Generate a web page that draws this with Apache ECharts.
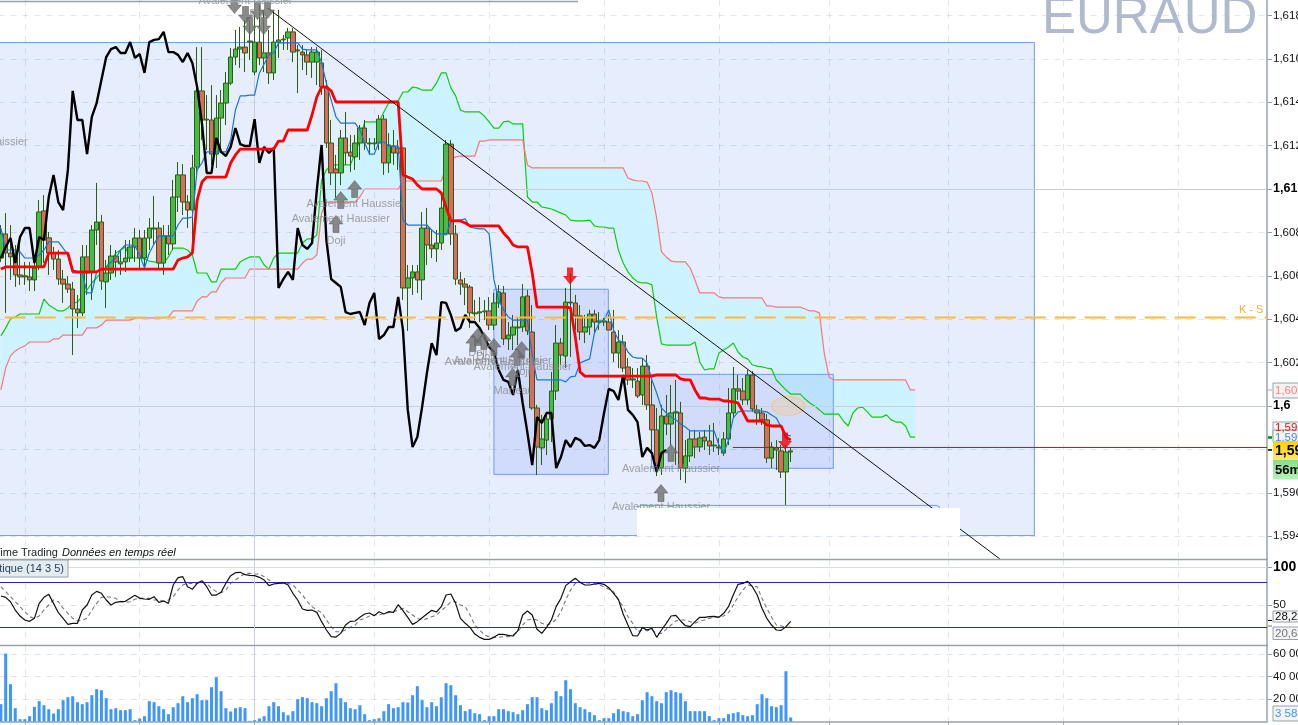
<!DOCTYPE html>
<html><head><meta charset="utf-8">
<style>html,body{margin:0;padding:0;background:#fff;overflow:hidden}#c{width:1298px;height:725px}</style>
<script src="https://cdn.jsdelivr.net/npm/echarts@6/dist/echarts.min.js"></script>
</head><body><div id="c"></div>
<script>
// All prices are in points (1e-5)
const opens=[160682,160793,160705,160687,160604,160600,160595,160581,160641,160899,
160775,160705,160677,160585,160562,160539,160447,160429,160687,160618,
160811,160848,160572,160613,160691,160655,160664,160682,160733,160774,
160682,160774,160816,160820,160659,160784,160747,160963,161065,160940,
160903,161101,161452,161318,161318,161161,161327,161396,161488,161608,
161645,161654,161677,161539,161677,161604,161627,161535,161677,161687,
161696,161724,161641,161631,161618,161585,161585,161581,161470,161212,
161092,161074,161235,161170,161148,161212,161281,161212,161208,161212,
161322,161120,161198,161189,161189,160544,160590,160618,160581,160820,
160742,160724,160751,160793,161207,160793,160581,160562,160548,160429,
160429,160434,160438,160373,160475,160521,160309,160327,160364,160364,
160507,160341,159991,159807,159843,159940,160069,160290,160230,160479,
160475,160415,160341,160364,160424,160387,160387,160387,160341,160244,
160295,160180,160120,160115,160051,160184,160005,159890,159714,159954,
159917,159968,159968,159714,159770,159848,159811,159857,159839,159816,
159811,159783,159848,159968,160079,160069,160028,160143,159982,159968,
159936,159760,159807,159793,159696,159788];
const closes=[160793,160705,160687,160604,160595,160595,160581,160636,160894,160765,
160705,160677,160585,160562,160539,160447,160429,160687,160613,160811,
160848,160576,160613,160691,160664,160664,160682,160733,160774,160682,
160774,160820,160820,160659,160784,160747,160963,161065,160940,160903,
161097,161452,161318,161322,161161,161327,161396,161488,161608,161645,
161654,161627,161682,161677,161604,161627,161535,161677,161687,161691,
161724,161631,161636,161618,161585,161631,161631,161470,161212,161074,
161074,161235,161166,161152,161212,161281,161212,161208,161212,161322,
161120,161203,161166,161166,160544,160590,160618,160581,160820,160742,
160724,160751,160912,161207,160793,160585,160562,160548,160429,160425,
160434,160438,160373,160475,160526,160309,160327,160364,160360,160503,
160346,159991,159811,159848,159940,160069,160290,160235,160479,160475,
160415,160341,160364,160424,160387,160392,160392,160350,160244,160295,
160175,160120,160125,160046,160184,160005,159890,159714,159954,159917,
159968,159973,159714,159770,159848,159811,159853,159839,159816,159820,
159807,159848,159968,160079,160069,160028,160143,159986,159968,159936,
159760,159811,159797,159696,159788,159793];
const lows=[160664,160429,160581,160549,160558,160558,160530,160530,160627,160659,
160604,160627,160558,160475,160521,160235,160360,160415,160512,160489,
160742,160535,160452,160581,160595,160604,160618,160664,160664,160627,
160627,160719,160742,160627,160604,160696,160719,160894,160880,160820,
160765,161051,161226,161180,161111,161097,161180,161295,161479,161571,
161558,161539,161595,161525,161571,161539,161484,161502,161604,161641,
161641,161585,161442,161548,161525,161512,161479,161433,161189,161018,
160959,161018,161111,161078,161088,161134,161180,161157,161180,161180,
161065,161074,161111,161088,160489,160346,160512,160521,160489,160650,
160682,160664,160719,160793,160742,160558,160512,160465,160360,160396,
160387,160396,160350,160350,160452,160281,160258,160258,160281,160341,
160327,159982,159682,159728,159774,159834,160028,160189,160175,160226,
160350,160304,160290,160327,160341,160350,160369,160350,160203,160175,
160157,160097,160083,160037,160005,159982,159774,159677,159682,159866,
159820,159728,159659,159645,159742,159760,159788,159797,159774,159788,
159774,159770,159820,159945,160028,160005,160005,159973,159913,159913,
159737,159714,159705,159668,159544,159742];
const highs=[160834,160889,160834,160742,160765,160664,160664,160696,160949,160972,
160802,160733,160719,160627,160599,160572,160512,160742,160742,160834,
161028,160880,160673,160742,160719,160719,160765,160765,160820,160811,
160811,160866,160968,160848,160834,160834,161042,161124,161115,160972,
161157,161654,161654,161433,161479,161433,161456,161539,161650,161733,
161747,161779,161779,161802,161848,161825,161733,161825,161825,161710,
161742,161742,161664,161664,161641,161654,161654,161641,161502,161318,
161157,161272,161355,161249,161249,161295,161318,161235,161235,161341,
161341,161258,161272,161226,161189,160650,160650,160650,160894,160913,
160811,160811,160986,161226,161226,160834,160618,160590,160558,160489,
160502,160489,160502,160521,160558,160553,160387,160420,160406,160562,
160535,160465,160005,159959,159973,160157,160373,160313,160544,160613,
160512,160465,160420,160443,160443,160433,160406,160420,160443,160350,
160327,160221,160175,160175,160221,160235,160120,159991,160005,160051,
160097,160120,160019,159843,159890,159890,159880,159890,159913,159922,
159853,159880,160083,160180,160143,160129,160166,160161,160005,159991,
159963,159834,159843,159820,159820,159807];
const kijun=[160631,160641,160641,160641,160641,160641,160641,160641,160641,160641,
160705,160705,160705,160705,160705,160622,160618,160618,160618,160618,
160618,160631,160631,160631,160631,160631,160631,160631,160631,160631,
160631,160631,160631,160631,160631,160631,160631,160673,160682,160687,
160705,160949,161032,161055,161055,161055,161055,161055,161120,161157,
161184,161184,161184,161184,161184,161184,161184,161184,161221,161221,
161272,161272,161272,161272,161272,161341,161424,161470,161470,161452,
161401,161401,161401,161401,161401,161401,161401,161401,161401,161401,
161401,161401,161401,161401,161065,161055,161046,161019,161000,161000,
161000,161000,160982,160917,160853,160853,160853,160843,160830,160830,
160830,160830,160830,160830,160830,160797,160774,160742,160733,160733,
160733,160613,160456,160456,160456,160456,160456,160456,160456,160452,
160318,160157,160138,160138,160138,160138,160138,160138,160138,160138,
160138,160138,160138,160138,160138,160138,160138,160143,160143,160143,
160143,160143,160125,160120,160120,160074,160037,160037,160032,160032,
160032,160023,160023,160019,160014,159973,159931,159931,159931,159931,
159913,159908,159908,159908,159857,159843];
const tenkan=[160820,160719,160719,160719,160710,160682,160682,160682,160696,160719,
160756,160756,160756,160728,160696,160613,160613,160613,160521,160521,
160618,160627,160636,160664,160682,160719,160742,160742,160737,160696,
160636,160705,160747,160784,160784,160784,160784,160834,160866,160866,
160871,161088,161120,161171,161171,161171,161171,161171,161226,161364,
161429,161429,161433,161433,161535,161576,161618,161627,161673,161673,
161673,161673,161673,161645,161641,161641,161641,161581,161488,161410,
161332,161304,161304,161304,161304,161272,161212,161161,161161,161217,
161217,161198,161198,161198,160857,160834,160834,160834,160834,160834,
160811,160793,160793,160788,160848,160857,160857,160862,160825,160820,
160816,160816,160793,160581,160489,160443,160410,160396,160396,160396,
160396,160235,160120,160120,160120,160120,160120,160120,160111,160134,
160138,160198,160208,160217,160337,160383,160396,160443,160350,160304,
160290,160249,160226,160221,160221,160198,160120,160060,159991,159968,
159949,159936,159917,159903,159885,159885,159885,159885,159885,159885,
159820,159783,159843,159945,159973,159977,159977,159977,159977,159977,
159973,159959,159945,159903,159867,159862];
const chikou=[160682,160733,160774,160659,160779,160820,160820,160659,160779,160765,
160963,161065,160940,160903,161088,161452,161318,161318,161161,161332,
161396,161502,161608,161645,161654,161627,161627,161677,161604,161622,
161535,161677,161687,161691,161724,161631,161631,161618,161585,161627,
161581,161470,161304,161074,161074,161235,161171,161152,161194,161281,
161207,161198,161198,161322,161120,161194,161166,161189,
160544,160585,160618,160581,160820,160742,160724,160751,160995,161203,
160765,160585,160567,160549,160433,160424,160429,160433,160373,160475,
160521,160309,160327,160364,160364,160503,160350,159982,159811,159857,
159996,160152,160290,160235,160479,160475,160420,160346,160360,160420,160387,160387,
160360,160318,160272,160249,160166,160120,160111,160051,160166,160014,
159876,159728,159949,159922,159968,159968,159714,159765,159843,159811,
159853,159843,159816,159820,159807,159843,159968,160079,160069,160028,
160143,159982,159959,159926,159765,159807,159783,159696,159783,159797];
const senkouA=[160323,160360,160401,160410,160424,160424,160424,160424,160424,160493,
160466,160452,160438,160438,160452,160475,160479,160507,160535,160567,
160590,160618,160641,160673,160705,160719,160733,160682,160682,160682,
160677,160668,160664,160659,160659,160687,160728,160728,160728,160719,
160696,160613,160613,160613,160572,160572,160631,160631,160631,160631,
160664,160677,160687,160687,160687,160650,160631,160682,160705,160705,
160705,160705,160705,160751,160770,160770,160788,161042,161088,161111,
161111,161111,161111,161111,161166,161226,161309,161309,161309,161309,
161355,161396,161401,161406,161447,161447,161470,161466,161456,161456,
161456,161489,161535,161535,161466,161429,161364,161355,161355,161355,
161355,161336,161309,161281,161281,161309,161313,161300,161300,161300,
160963,160940,160940,160917,160913,160908,160899,160889,160880,160857,
160853,160853,160853,160857,160830,160825,160825,160820,160820,160719,
160659,160618,160590,160572,160567,160567,160558,160410,160286,160281,
160281,160281,160281,160281,160281,160295,160203,160166,160171,160171,
160244,160258,160272,160290,160249,160226,160217,160189,160184,160180,
160175,160171,160120,160097,160074,160055,160055,160055,160032,160014,
160000,159982,159963,159963,159963,159963,159931,159908,159968,159991,
159995,159973,159949,159949,159949,159959,159936,159926,159926,159908,
159857,159857];
const senkouB=[160074,160175,160231,160254,160267,160277,160295,160295,160295,160295,
160295,160309,160309,160327,160327,160327,160327,160327,160360,160360,
160360,160373,160396,160396,160396,160396,160396,160396,160406,160406,
160406,160406,160406,160406,160406,160410,160438,160438,160438,160438,
160438,160484,160503,160503,160526,160526,160567,160590,160590,160590,
160590,160590,160631,160631,160631,160631,160631,160631,160631,160631,
160631,160631,160631,160659,160677,160677,160696,160889,160940,160940,
160940,160940,160940,160940,160940,160963,161000,161000,161000,161000,
161000,161000,161000,161000,161037,161037,161037,161037,161037,161037,
161037,161037,161037,161097,161134,161148,161152,161152,161152,161152,
161221,161221,161226,161226,161226,161226,161226,161226,161226,161226,
161111,161097,161097,161097,161097,161097,161097,161097,161097,161097,
161097,161097,161097,161097,161097,161097,161097,161097,161097,161097,
161097,161051,161042,161037,161037,161032,160982,160866,160710,160687,
160668,160664,160664,160664,160636,160581,160521,160521,160521,160521,
160503,160498,160498,160498,160498,160498,160498,160498,160498,160498,
160461,160461,160456,160456,160456,160456,160456,160456,160447,160438,
160438,160429,160244,160134,160120,160120,160120,160120,160120,160120,
160120,160120,160120,160120,160120,160120,160120,160120,160120,160120,
160074,160074];
const stochK=[62,60.2,54.4,43.3,35.3,30,28.2,32.2,52.2,60.2,
64.2,52.2,39.8,32.2,24.2,25.6,25.6,43.3,50,63.3,
68.2,65.6,56.7,50,53.6,54.4,54.9,58.9,62.9,58.9,
58,57.6,61.1,53.6,55.3,52.2,76.7,86.4,87.8,74.4,
70.9,78.9,82.4,74.4,63.3,63.3,66.9,78.9,89.1,93.1,
93.6,90.4,89.6,89.1,86.9,83.3,75.8,78,78.9,79.8,
76.7,65.6,56.7,44.7,42.9,43.3,40.2,27.8,16.7,7.8,
7.3,12.2,23.3,28.2,28.7,33.6,38,39.3,35.8,41.1,
38,41.1,40.2,50.4,42.4,33.6,24.2,27.8,
33.1,38,42.9,40.7,47.8,63.3,64.7,52.2,32.2,25.6,
20.2,11.3,6.9,4.2,4.2,6.9,10.9,10.9,9.6,8.7,
15.8,36.7,42,36.7,17.6,12.2,20.2,30,47.8,58.9,
75.8,81.1,85.6,80.2,76.7,76.7,78,78.9,77.6,73.1,
65.6,57.6,38,23.3,9.1,8.7,19.8,16.7,18.9,6.9,
16.7,25.6,35.3,36.2,28.7,22.4,21.1,27.8,33.6,33.6,
34.4,34.9,33.6,38.9,47.8,63.3,77.6,78.9,81.6,74.4,
63.3,45.6,32.2,23.3,16.7,16.2,21.1,28.2];
const stochD=[74.4,67.8,61.1,54.4,47.8,41.1,34.4,32.2,35.3,43.3,
50,56.7,54.4,45.6,38.9,32.2,28.7,30,32.2,43.3,
52.2,60.2,61.1,60.2,58.9,54.4,53.6,54.4,57.6,59.3,
58.9,58.9,56.7,56.7,55.3,56.7,61.1,70,76.7,78.9,
78.9,78.9,81.1,78.9,72.2,67.8,66.4,70,78.9,83.3,
87.8,92.2,92.2,91.3,91.3,87.8,83.3,79.8,78.9,78.9,
78.9,76.7,70,63.3,54.4,47.8,43.3,40.2,30,21.1,
14.4,14.4,16.7,20.2,23.3,30,32.2,35.3,36.7,36.7,
38.9,39.8,41.1,43.3,45.6,41.1,36.7,32.2,
30,31.8,34.4,36.7,42.4,47.8,54.4,54.4,50,47.8,
36.7,23.3,16.7,10,7.8,6.9,6.9,7.8,7.8,10,
14.4,23.3,30,31.3,30,25.6,23.3,25.6,30.9,41.1,
56.7,70,78.9,80.2,79.8,78.9,78,76.7,74.4,70.9,
67.8,56.7,47.8,34.4,25.6,14.4,16.7,15.8,16.7,12.2,
12.2,17.6,23.3,28.7,30,30,27.8,25.6,28.7,30,
32.2,33.6,34.4,35.3,39.8,50,61.1,70,76.7,75.4,
74.4,58.9,45.6,33.6,23.3,22,20.2,20.63];
const volumes=[15400,60400,33150,11840,2070,2070,4740,13020,18060,14500,
10950,7100,10950,18940,21610,22500,17170,15400,17170,23380,
28710,27820,20720,10950,11840,10060,10060,10950,1180,2660,
4740,18060,17170,13620,10950,6510,12730,16280,22500,17170,
20720,24270,18940,18940,30490,39370,26940,11840,8880,11840,
12730,11840,590,1180,2660,4740,13620,17170,13620,8290,
5620,9180,19830,21610,20720,17170,16280,13620,20720,26940,
34040,20720,17170,11840,10950,14500,6510,1180,2070,2960,
9180,15400,11840,12730,17170,16870,23380,31380,
18940,12730,17170,13620,21610,34040,32260,23380,14500,9180,
10950,7400,6510,1180,4740,4740,10950,10950,9180,8290,
6510,10060,15400,21610,21610,11840,10060,16280,26940,22500,
36700,28710,16280,12730,10950,8290,5620,1180,2960,2960,
7400,10950,9180,8290,4740,6510,18940,26050,22500,18060,
16280,26050,27820,26050,25160,18060,9180,9180,9180,9180,
4740,1180,2960,2960,6510,7400,8290,5620,4740,5620,
15400,24270,20720,13620,12730,14500,44700,3583];
const priceTicks=[1.618,1.616,1.614,1.612,1.61,1.608,1.606,1.604,1.602,1.6,1.598,1.596,1.594];
const majorPrices=[1.61,1.6];
const stochTicks=[100,50];
const stochLevels=[80,20];
const volumeTicks=[60000,40000,20000];
const timeTicks=[5,29,53,78,102,126,150,173,198,222,246];
const dayBreak=53;
const barSlots=265;
const keyLevel=160408, lastPrice=159809;
const downArrows=[[48.8,161848],[51.1,161802],[52,161751],[53.6,161820],[55.7,161825],[54.9,161751]];
const upArrows=[[71,160949],[73.9,161000],[70,160839],[98.6,160290],[99.6,160318],[100.9,160300],[103,160272],[108.8,160258],[107.8,160226],[106.9,160134],[140,159784],[137.9,159599]];
const redArrows=[[118.9,160599],[163.8,159839]];
const patterns=[['Avalement Baissier',51.1,161866],['Doji',53.9,161806],['Avalement Baissier',-4.2,161217],['Avalement Haussier',74.1,160929],['Avalement Haussier',71,160864],['Doji',70,160761],['Doji',99.6,160245],['Doji',101.3,160226],['Avalement Haussier',103,160203],['Avalement Haussier',104.8,160207],['Avalement Haussier',109,160180],['Doji',108.6,160157],['Marteau',107.1,160069],['Avalement Haussier',140,159710],['Avalement Haussier',137.9,159535]];
const bigBox=[[-5,161675,215.9,159403]];
const innerBoxes=[[103,160538,126.9,159685],[135.9,160146,173.9,159713]];
const outlineBox=[[133,159542,196.2,159406]];
const trendLine=[[55.7,161834],[208.7,159295]];
const ellipse=[[164.5,160000]];

const P=v=>v/1e5;
const candles=opens.map((o,i)=>[P(o),P(closes[i]),P(lows[i]),P(highs[i])]);
const cats=Array.from({length:barSlots},(_,i)=>String(i));
const cloudLow=senkouA.map((a,i)=>P(Math.min(a,senkouB[i])));
const cloudGap=senkouA.map((a,i)=>Math.abs(a-senkouB[i])/1e5);
const pts=a=>a.map(v=>[v[0],P(v[1])]);
const fmtPrice=v=>v.toFixed(3).replace(/0+$/,'').replace('.',',');
const AX='#98a2ad', GRIDC='rgba(150,165,205,0.28)', FONT='"Liberation Sans",Arial,sans-serif';
const ARROW_DOWN='path://M4,0H10V8H14L7,16L0,8H4Z', ARROW_UP='path://M7,0L14,8H10V16H4V8H0Z';

function boxItem(fill,stroke,radius){
  return function(p,api){
    const a=api.coord([api.value(0),api.value(1)]),b=api.coord([api.value(2),api.value(3)]);
    return {type:'rect',shape:{x:a[0],y:a[1],width:b[0]-a[0],height:b[1]-a[1],r:radius||0},
      style:{fill,stroke,lineWidth:1}};
  };
}
const boxData=a=>a.map(r=>[r[0],P(r[1]),r[2],P(r[3])]);
const vLine=(x)=>({silent:true,symbol:'none',label:{show:false},animation:false,
  lineStyle:{color:'#c6cfdf',type:'solid',width:1},data:[{xAxis:x}]});

const gridL=-1.5,gridW=1268.5;
const catAxis=g=>({type:'category',gridIndex:g,data:cats,show:false,boundaryGap:true});
const valAxis=(g,last)=>({type:'value',gridIndex:g,min:-0.5,max:barSlots-0.5,position:'bottom',
  axisLine:{show:!!last,onZero:false,lineStyle:{color:AX,width:1.5}},axisLabel:{show:false},
  axisTick:{show:!!last,length:3,customValues:timeTicks,lineStyle:{color:AX}},
  splitLine:{show:true,lineStyle:{color:GRIDC,type:[6,6],width:1}}});
const rich={b:{fontWeight:'bold',fontSize:12.5,color:'#000',fontFamily:FONT},h:{fontWeight:'bold',fontSize:14,color:'#000',fontFamily:FONT},n:{fontSize:11.5,color:'#111',fontFamily:FONT}};

const option={
 animation:false,backgroundColor:'#fff',
 grid:[{left:gridL,top:0,width:gridW,height:559,outerBoundsMode:'none'},{left:gridL,top:559.5,width:gridW,height:85.5,outerBoundsMode:'none'},{left:gridL,top:645.5,width:gridW,height:76,outerBoundsMode:'none'}],
 xAxis:[catAxis(0),valAxis(0),catAxis(1),valAxis(1),catAxis(2),valAxis(2,true)],
 yAxis:[
  {type:'value',gridIndex:0,position:'right',min:1.59295,max:1.61871,
   axisLine:{show:true,onZero:false,lineStyle:{color:AX,width:1.5}},
   axisTick:{show:true,length:5,customValues:priceTicks,lineStyle:{color:AX}},
   axisLabel:{show:true,margin:6,customValues:priceTicks,rich,
     formatter:v=>majorPrices.some(m=>Math.abs(m-v)<1e-6)?`{b|${fmtPrice(v)}}`:`{n|${fmtPrice(v)}}`},
   splitLine:{show:true,lineStyle:{color:GRIDC,type:[6,6]}}},
  {type:'value',gridIndex:1,position:'right',min:-3.33,max:110.67,
   axisLine:{show:true,onZero:false,lineStyle:{color:AX,width:1.5}},
   axisTick:{show:true,length:5,customValues:stochTicks,lineStyle:{color:AX}},
   axisLabel:{show:true,margin:6,customValues:stochTicks,rich,formatter:v=>v===100?`{h|${v}}`:`{n|${v}}`},
   splitLine:{show:true,lineStyle:{color:'rgba(150,160,180,.3)',type:[6,6]}}},
  {type:'value',gridIndex:2,position:'right',min:0,max:67560,
   axisLine:{show:true,onZero:false,lineStyle:{color:AX,width:1.5}},
   axisTick:{show:true,length:5,customValues:volumeTicks,lineStyle:{color:AX}},
   axisLabel:{show:true,margin:6,customValues:volumeTicks,rich,formatter:v=>`{n|${v/1000} 000}`},
   splitLine:{show:true,lineStyle:{color:'rgba(150,160,180,.3)',type:[6,6]}}}
 ],
 series:[
  {type:'custom',name:'zone',xAxisIndex:1,yAxisIndex:0,z:1,clip:false,silent:true,encode:{x:[0,2],y:[1,3]},
   renderItem:boxItem('rgba(5,75,235,0.1)','#6a9cf8'),data:boxData(bigBox),
   markLine:{silent:true,symbol:'none',label:{show:false},lineStyle:{color:'#c6cfdf',type:'solid',width:1},data:majorPrices.map(v=>({yAxis:v}))}},
  {type:'custom',name:'outline',xAxisIndex:1,yAxisIndex:0,z:1,silent:true,encode:{x:[0,2],y:[1,3]},
   renderItem:boxItem('rgba(0,0,0,0)','#6a9cf8',4),data:boxData(outlineBox)},
  {type:'line',name:'cloudBase',xAxisIndex:0,yAxisIndex:0,stack:'cloud',data:cloudLow,showSymbol:false,silent:true,lineStyle:{width:0,opacity:0},z:2},
  {type:'line',name:'cloudBand',xAxisIndex:0,yAxisIndex:0,stack:'cloud',data:cloudGap,showSymbol:false,silent:true,lineStyle:{width:0,opacity:0},
   areaStyle:{color:'#ccf3ff',opacity:1},z:2},
  {type:'custom',name:'zones',xAxisIndex:1,yAxisIndex:0,z:3,silent:true,encode:{x:[0,2],y:[1,3]},
   renderItem:boxItem('rgba(55,95,245,0.12)','#6a9cf8'),data:boxData(innerBoxes)},
  {type:'line',name:'Senkou A',xAxisIndex:0,yAxisIndex:0,data:senkouA.map(P),showSymbol:false,lineStyle:{color:'#10cc10',width:1.2},z:4},
  {type:'line',name:'Senkou B',xAxisIndex:0,yAxisIndex:0,data:senkouB.map(P),showSymbol:false,lineStyle:{color:'#ff7575',width:1.2},z:4},
  {type:'candlestick',name:'EURAUD',xAxisIndex:0,yAxisIndex:0,data:candles,barWidth:5,z:5,
   itemStyle:{color:'#47bb47',color0:'#dc6a5e',borderColor:'#2b5e12',borderColor0:'#2b5e12',borderWidth:1}},
  {type:'line',name:'Tenkan',xAxisIndex:0,yAxisIndex:0,data:tenkan.map(P),showSymbol:false,lineStyle:{color:'#1877d2',width:1.2},z:6},
  {type:'line',name:'Chikou',xAxisIndex:0,yAxisIndex:0,data:chikou.map(P),showSymbol:false,lineStyle:{color:'#000',width:2.4},z:6},
  {type:'line',name:'Kijun',xAxisIndex:0,yAxisIndex:0,data:kijun.map(P),showSymbol:false,lineStyle:{color:'#ff0000',width:2.8},z:7,markLine:vLine(dayBreak)},
  {type:'line',name:'K - S',xAxisIndex:1,yAxisIndex:0,data:[[0.8,P(keyLevel)],[barSlots-0.5,P(keyLevel)]],showSymbol:false,
   lineStyle:{color:'#ffb938',width:2,type:[21,9]},z:7},
  {type:'line',name:'last',xAxisIndex:1,yAxisIndex:0,data:[[152.9,P(lastPrice)],[barSlots-0.5,P(lastPrice)]],showSymbol:false,lineStyle:{color:'#6b3c12',width:1},z:7},
  {type:'line',name:'trend',xAxisIndex:1,yAxisIndex:0,data:pts(trendLine),showSymbol:false,lineStyle:{color:'#111',width:1},z:8},
  {type:'scatter',name:'ellipse',xAxisIndex:1,yAxisIndex:0,data:pts(ellipse),symbol:'circle',symbolSize:[33,19],z:7,silent:true,
   itemStyle:{color:'rgba(232,205,165,0.6)',borderColor:'#fbc26b',borderWidth:1}},
  {type:'scatter',name:'down',xAxisIndex:1,yAxisIndex:0,data:pts(downArrows),symbol:ARROW_DOWN,symbolSize:[14,17],z:9,silent:true,
   itemStyle:{color:'#6e6e6e',borderColor:'#555',borderWidth:0.6}},
  {type:'scatter',name:'up',xAxisIndex:1,yAxisIndex:0,data:pts(upArrows),symbol:ARROW_UP,symbolSize:[14,17],z:9,silent:true,
   itemStyle:{color:'#6e6e6e',borderColor:'#555',borderWidth:0.6}},
  {type:'scatter',name:'red',xAxisIndex:1,yAxisIndex:0,data:pts(redArrows),symbol:ARROW_DOWN,symbolSize:[14,17],z:9,silent:true,
   itemStyle:{color:'#f20000'}},
  {type:'scatter',name:'patterns',xAxisIndex:1,yAxisIndex:0,clip:false,silent:true,z:9,symbolSize:0,
   data:patterns.map(r=>({name:r[0],value:[r[1],P(r[2])]})),
   label:{show:true,position:'inside',formatter:'{b}',color:'#8b8b8b',fontSize:11,fontFamily:FONT}},

  {type:'line',name:'%K',xAxisIndex:2,yAxisIndex:1,data:stochK,showSymbol:false,lineStyle:{color:'#111',width:1.2},z:5,
   markLine:{silent:true,symbol:'none',label:{show:false},data:[
     ...stochLevels.map(v=>({yAxis:v,lineStyle:{color:'#2525c8',width:1,type:'solid'}})),
     {xAxis:dayBreak,lineStyle:{color:'#c6cfdf',width:1,type:'solid'}},
     {yAxis:100,lineStyle:{color:'#d8dbe0',width:1,type:'solid'}}]}},
  {type:'line',name:'%D',xAxisIndex:2,yAxisIndex:1,data:stochD,showSymbol:false,lineStyle:{color:'#777',width:1.1,type:[4,3]},z:4},
  {type:'bar',name:'Volume',xAxisIndex:4,yAxisIndex:2,data:volumes,barWidth:3,itemStyle:{color:'#3d96ff'},z:5,markLine:vLine(dayBreak)}
 ],
 graphic:{elements:[
  {type:'text',z:1,style:{x:1042,y:19,text:'EURAUD',font:'51px '+FONT,fill:'#b1b9cd',verticalAlign:'middle'}},
  {type:'rect',z:50,shape:{x:637,y:508,width:323,height:28},style:{fill:'#fff'}},
  {type:'line',z:50,shape:{x1:0,y1:1.5,x2:578,y2:1.5},style:{stroke:AX,lineWidth:1.5}},
  {type:'line',z:50,shape:{x1:0,y1:559.5,x2:1268,y2:559.5},style:{stroke:AX,lineWidth:1.5}},
  {type:'line',z:50,shape:{x1:0,y1:645.5,x2:1268,y2:645.5},style:{stroke:AX,lineWidth:1.5}},
  {type:'text',z:50,style:{x:-6,y:553,text:'Time Trading',font:'11px '+FONT,fill:'#222',verticalAlign:'middle'}},
  {type:'text',z:50,style:{x:62,y:553,text:'Données en temps réel',font:'italic 11px '+FONT,fill:'#111',verticalAlign:'middle'}},
  {type:'rect',z:50,shape:{x:-2,y:560,width:70,height:17},style:{fill:'#e4ecf0',stroke:AX,lineWidth:1}},
  {type:'text',z:51,style:{x:64,y:569,text:'Stochastique (14 3 5)',font:'11px '+FONT,fill:'#27435c',align:'right',verticalAlign:'middle'}},
  {type:'text',z:50,style:{x:1239,y:309.5,text:'K - S',font:'11px '+FONT,fill:'#f7b035',verticalAlign:'middle'}},
  ...[[383,15,'#f2f2f2','#ff8282','1,6007',11.5,390.5,'normal'],[422,16,'#f4f4f4','#f01010','1,5985',11.5,428,'normal'],[430,12,'#f4f4f4','#3a8cf0','1,5982',11.5,437.5,'normal']].flatMap(b=>boxEls(b)),
  {type:'rect',z:53,shape:{x:1273,y:441,width:30,height:19},style:{fill:{type:'linear',x:0,y:0,x2:0,y2:1,colorStops:[{offset:0,color:'#ffd000'},{offset:1,color:'#ffe66e'}]}}},
  {type:'text',z:54,style:{x:1275,y:451,text:'1,5977',font:'bold 14px '+FONT,fill:'#000',verticalAlign:'middle'}},
  {type:'rect',z:53,shape:{x:1273,y:460,width:30,height:19.5},style:{fill:{type:'linear',x:0,y:0,x2:0,y2:1,colorStops:[{offset:0,color:'#86e086'},{offset:1,color:'#b6f2b6'}]}}},
  {type:'text',z:54,style:{x:1275,y:470.5,text:'56mn',font:'bold 13px '+FONT,fill:'#000',verticalAlign:'middle'}},
  {type:'line',z:50,shape:{x1:1268,y1:390,x2:1272,y2:390},style:{stroke:'#ff8282',lineWidth:1}},
  {type:'line',z:50,shape:{x1:1268,y1:436.5,x2:1272,y2:436.5},style:{stroke:'#10cc10',lineWidth:1}},
  {type:'line',z:50,shape:{x1:1268,y1:437.5,x2:1272,y2:437.5},style:{stroke:'#f01010',lineWidth:1}},
  {type:'line',z:50,shape:{x1:1268,y1:438.5,x2:1272,y2:438.5},style:{stroke:'#3a8cf0',lineWidth:1}},
  {type:'line',z:50,shape:{x1:1268,y1:450,x2:1272,y2:450},style:{stroke:'#000',lineWidth:1.5}},
  {type:'line',z:50,shape:{x1:1268,y1:620.5,x2:1272,y2:620.5},style:{stroke:'#000',lineWidth:1}},
  {type:'line',z:50,shape:{x1:1268,y1:626,x2:1272,y2:626},style:{stroke:'#777',lineWidth:1}},
  ...[[611,11,'#f6f6f6','#111','28,20',11.5,616.5,'normal'],[627,12.5,'#f2f2f2','#777','20,63',11.5,633.5,'normal'],[706,15,'#f4f4f4','#3d96ff','3 583',11.5,714,'normal']].flatMap(b=>boxEls(b))
 ]}
};
function boxEls(b){return [
  {type:'rect',z:52,shape:{x:1273,y:b[0],width:30,height:b[1]},style:{fill:b[2],stroke:AX,lineWidth:1}},
  {type:'text',z:53,style:{x:1275,y:b[6],text:b[4],font:b[7]+' '+b[5]+'px '+FONT,fill:b[3],verticalAlign:'middle'}}];}
echarts.init(document.getElementById('c'),null,{renderer:'canvas'}).setOption(option);
</script></body></html>
